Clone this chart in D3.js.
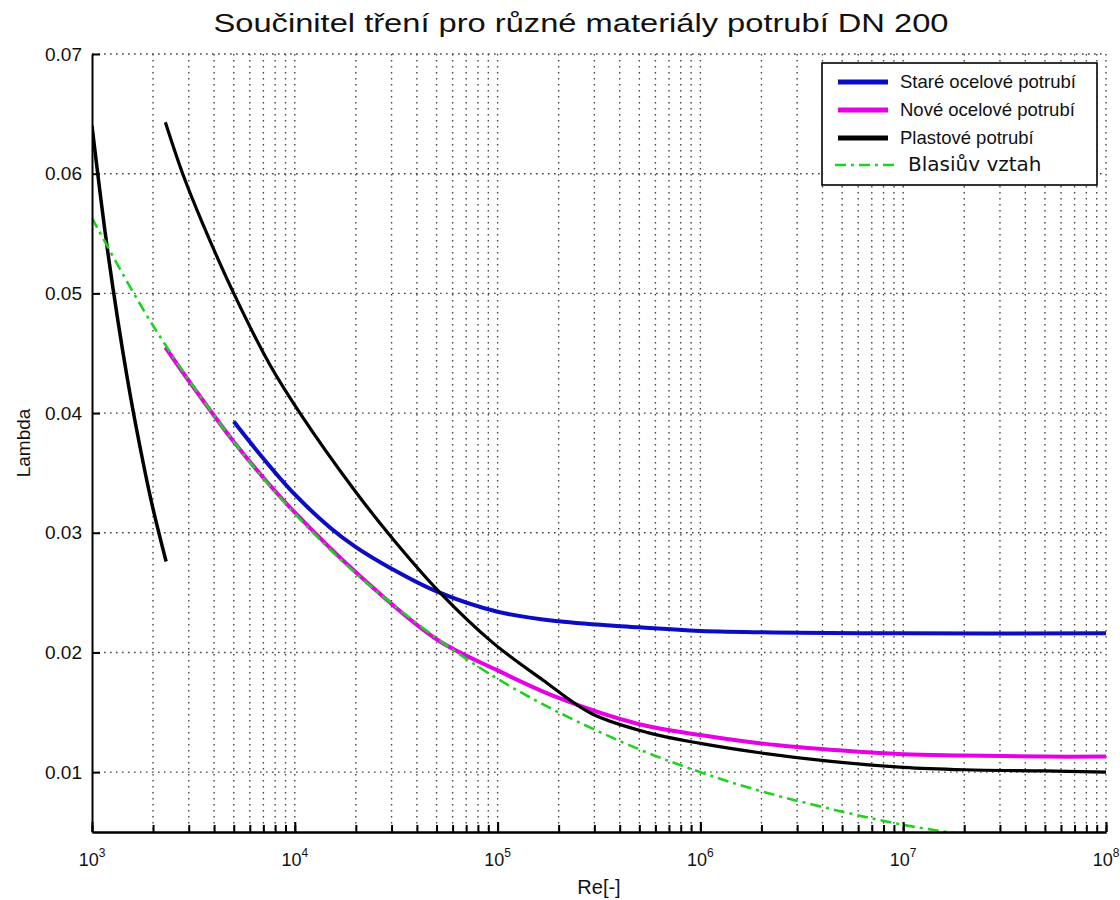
<!DOCTYPE html>
<html>
<head>
<meta charset="utf-8">
<script src="https://cdn.jsdelivr.net/npm/d3@7"></script>
<style>
  body { margin: 0; background: #fff; }
  svg { display: block; }
</style>
</head>
<body>
<svg id="chart" width="1120" height="900"></svg>
<script>
// ---- texts ----
const chartTitle = "Součinitel tření pro různé materiály potrubí DN 200";
const xAxisLabel = "Re[-]";
const yAxisLabel = "Lambda";
const seriesNames = ["Staré ocelové potrubí", "Nové ocelové potrubí", "Plastové potrubí", "Blasiův vztah"];

// ---- ticks ----
const yTickValues = [0.01, 0.02, 0.03, 0.04, 0.05, 0.06, 0.07];
const xMajorTicks = [1e3, 1e4, 1e5, 1e6, 1e7, 1e8];
const xMajorExponents = ["3", "4", "5", "6", "7", "8"];

// ---- series: Reynolds number vs. friction factor ----
// old steel pipe
const oldSteelRe     = [5000, 7000, 10000, 15000, 20000, 30000, 50000, 100000, 200000, 500000, 1e6, 1e7, 1e8];
const oldSteelLambda = [0.0393, 0.0362, 0.0332, 0.0304, 0.0288, 0.0270, 0.0251, 0.0234, 0.0226, 0.0221, 0.0218, 0.0216, 0.0216];

// new steel pipe
const newSteelRe     = [2300, 3000, 5000, 7000, 10000, 20000, 50000, 100000, 200000, 500000, 1e6, 2e6, 5e6, 1e7, 2e7, 5e7, 1e8];
const newSteelLambda = [0.0455, 0.0427, 0.0376, 0.0346, 0.0317, 0.0267, 0.0211, 0.0185, 0.0162, 0.0140, 0.0131, 0.0124, 0.0118, 0.0115, 0.0114, 0.0113, 0.0113];

// plastic pipe, laminar branch
const laminarRe     = [1000, 1200, 1500, 1800, 2000, 2320];
const laminarLambda = [0.0640, 0.0533, 0.0427, 0.0356, 0.0320, 0.0276];

// plastic pipe, turbulent branch
const plasticRe     = [2300, 2800, 3500, 5000, 7500, 10600, 19400, 29400, 52000, 94900, 167000, 290000, 550000, 1e6, 2e6, 4.4e6, 1e7, 2e7, 5e7, 1e8];
const plasticLambda = [0.0643, 0.0600, 0.0559, 0.0500, 0.0441, 0.0400, 0.0337, 0.0298, 0.0250, 0.0208, 0.0177, 0.0149, 0.0133, 0.0124, 0.0116, 0.0109, 0.0104, 0.0102, 0.0101, 0.0100];

// Blasius relation
const blasiusRe     = [1000, 2000, 5000, 10000, 20000, 50000, 100000, 200000, 500000, 1e6, 2e6, 5e6, 1e7, 1.8e7];
const blasiusLambda = [0.0563, 0.0473, 0.0376, 0.0316, 0.0266, 0.0212, 0.0178, 0.0150, 0.0119, 0.0100, 0.0084, 0.0067, 0.0056, 0.0049];

// ---- layout ----
const plot = { left: 92, right: 1106, top: 54, bottom: 832 };
const svg = d3.select("#chart");

const x = d3.scaleLog().domain([1e3, 1e8]).range([plot.left, plot.right]);
const y = d3.scaleLinear().domain([0.005, 0.07]).range([plot.bottom, plot.top]);

const font = "'Liberation Sans', Arial, sans-serif";

// ---- dotted grid ----
const grid = svg.append("g").attr("stroke", "#444").attr("stroke-width", 1.4)
  .attr("stroke-dasharray", "1.6,4.4").attr("fill", "none");
grid.selectAll("line.h").data(yTickValues).join("line")
  .attr("class", "h")
  .attr("x1", plot.left).attr("x2", plot.right)
  .attr("y1", d => y(d)).attr("y2", d => y(d));
grid.selectAll("line.v").data(x.ticks().filter(d => d > 1e3)).join("line")
  .attr("class", "v")
  .attr("x1", d => x(d)).attr("x2", d => x(d))
  .attr("y1", plot.top).attr("y2", plot.bottom);

// ---- curves ----
svg.append("defs").append("clipPath").attr("id", "plotClip")
  .append("rect").attr("x", plot.left).attr("y", plot.top)
  .attr("width", plot.right - plot.left).attr("height", plot.bottom - plot.top);

const line = d3.line().x(d => x(d[0])).y(d => y(d[1])).curve(d3.curveCatmullRom.alpha(0.5));
const zip = (a, b) => a.map((v, i) => [v, b[i]]);

const curves = svg.append("g").attr("clip-path", "url(#plotClip)").attr("fill", "none")
  .attr("stroke-linejoin", "round");

curves.append("path").attr("d", line(zip(oldSteelRe, oldSteelLambda)))
  .attr("stroke", "#0c0cc4").attr("stroke-width", 4);
curves.append("path").attr("d", line(zip(newSteelRe, newSteelLambda)))
  .attr("stroke", "#e600e6").attr("stroke-width", 4);
curves.append("path").attr("d", line(zip(laminarRe, laminarLambda)))
  .attr("stroke", "#000").attr("stroke-width", 3.5);
curves.append("path").attr("d", line(zip(plasticRe, plasticLambda)))
  .attr("stroke", "#000").attr("stroke-width", 3.2);
curves.append("path").attr("d", line(zip(blasiusRe, blasiusLambda)))
  .attr("stroke", "#1ed21e").attr("stroke-width", 2.6)
  .attr("stroke-dasharray", "11,5,3,5");

// ---- axes ----
const axisBottomMinor = d3.axisBottom(x).tickValues(x.ticks()).tickSize(-7).tickSizeOuter(0).tickFormat(() => "");
const axisBottomMajor = d3.axisBottom(x).tickValues(xMajorTicks).tickSize(-10).tickSizeOuter(0).tickFormat(() => "");
const gxMinor = svg.append("g").attr("transform", `translate(0,${plot.bottom})`).call(axisBottomMinor);
const gxMajor = svg.append("g").attr("transform", `translate(0,${plot.bottom})`).call(axisBottomMajor);
[gxMinor, gxMajor].forEach(g => {
  g.selectAll("line").attr("stroke", "#000").attr("stroke-width", 2);
  g.select(".domain").attr("stroke", "#000").attr("stroke-width", 2);
});

// exponent labels 10^n
const xLabels = svg.append("g").attr("font-family", font).attr("fill", "#111");
xMajorTicks.forEach((t, i) => {
  const txt = xLabels.append("text")
    .attr("x", x(t)).attr("y", 866)
    .attr("text-anchor", "middle");
  txt.append("tspan").attr("font-size", 18).text("10");
  txt.append("tspan").attr("font-size", 12).attr("dy", -9).text(xMajorExponents[i]);
});

const axisLeft = d3.axisLeft(y).tickValues(yTickValues).tickSize(-8).tickSizeOuter(0)
  .tickPadding(10).tickFormat(d3.format(".2f"));
const gy = svg.append("g").attr("transform", `translate(${plot.left},0)`).call(axisLeft);
gy.select(".domain").attr("stroke", "#000").attr("stroke-width", 2);
gy.selectAll("line").attr("stroke", "#000").attr("stroke-width", 2);
gy.selectAll("text").attr("font-family", font).attr("font-size", 19).attr("fill", "#111");

// ---- titles ----
svg.append("text").attr("x", 581).attr("y", 32)
  .attr("text-anchor", "middle").attr("font-family", font).attr("font-size", 26)
  .attr("textLength", 735).attr("lengthAdjust", "spacingAndGlyphs")
  .attr("fill", "#111").text(chartTitle);

svg.append("text").attr("x", (plot.left + plot.right) / 2).attr("y", 894)
  .attr("text-anchor", "middle").attr("font-family", font).attr("font-size", 20)
  .attr("fill", "#111").text(xAxisLabel);

svg.append("text").attr("transform", `translate(30,${(plot.top + plot.bottom) / 2}) rotate(-90)`)
  .attr("text-anchor", "middle").attr("font-family", font).attr("font-size", 19)
  .attr("fill", "#111").text(yAxisLabel);

// ---- legend ----
const legend = svg.append("g");
legend.append("rect").attr("x", 822).attr("y", 63).attr("width", 275).attr("height", 122)
  .attr("fill", "#fff").attr("stroke", "#000").attr("stroke-width", 1.6);

const legendStyles = [
  { color: "#0c0cc4", width: 5, dash: null },
  { color: "#e600e6", width: 5, dash: null },
  { color: "#000", width: 5, dash: null },
  { color: "#1ed21e", width: 2.6, dash: "11,5,3,5" }
];
const legendRows = [82, 110, 138, 165];
seriesNames.forEach((name, i) => {
  const st = legendStyles[i];
  const ln = legend.append("line")
    .attr("x1", i === 3 ? 835 : 838).attr("x2", i === 3 ? 896 : 888)
    .attr("y1", legendRows[i]).attr("y2", legendRows[i])
    .attr("stroke", st.color).attr("stroke-width", st.width);
  if (st.dash) ln.attr("stroke-dasharray", st.dash);
  const t = legend.append("text").attr("x", i === 3 ? 908 : 900).attr("y", legendRows[i] + 6)
    .attr("fill", "#111").text(name);
  if (i === 3) t.attr("font-family", "'DejaVu Sans', sans-serif").attr("font-size", 20);
  else t.attr("font-family", font).attr("font-size", 18.5);
});
</script>
</body>
</html>
